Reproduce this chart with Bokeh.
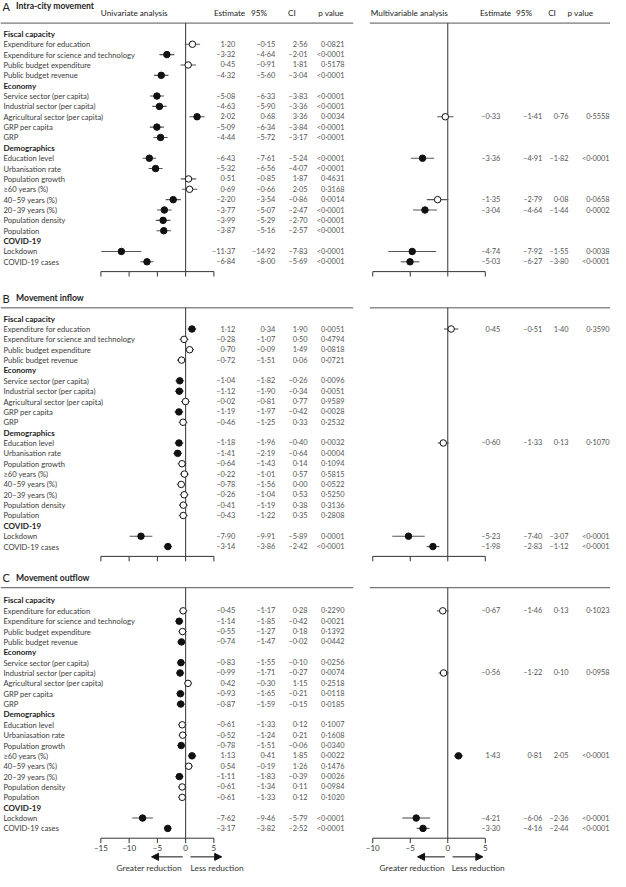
from bokeh.plotting import figure
from bokeh.models import Range1d, ColumnDataSource, Arrow, NormalHead
from bokeh.core.properties import value
from bokeh.embed import file_html
from bokeh.resources import INLINE

# ---------------- data ----------------
groups = ["Fiscal capacity", "Economy", "Demographics", "COVID-19"]
group_sizes = [4, 5, 8, 2]
items = ["Expenditure for education", "Expenditure for science and technology",
         "Public budget expenditure", "Public budget revenue",
         "Service sector (per capita)", "Industrial sector (per capita)",
         "Agricultural sector (per capita)", "GRP per capita", "GRP",
         "Education level", "Urbanisation rate", "Population growth",
         "≥60 years (%)", "40–59 years (%)", "20–39 years (%)",
         "Population density", "Population", "Lockdown", "COVID-19 cases"]
items_c = [("Urbaniasation rate" if s == "Urbanisation rate" else s) for s in items]

panel_letters = ["A", "B", "C"]
panel_titles = ["Intra-city movement", "Movement inflow", "Movement outflow"]

uni_a_est = [1.20, -3.32, 0.45, -4.32, -5.08, -4.63, 2.02, -5.09, -4.44, -6.43, -5.32, 0.51, 0.69, -2.20, -3.77, -3.99, -3.87, -11.37, -6.84]
uni_a_lo = [-0.15, -4.64, -0.91, -5.60, -6.33, -5.90, 0.68, -6.34, -5.72, -7.61, -6.56, -0.85, -0.66, -3.54, -5.07, -5.29, -5.16, -14.92, -8.00]
uni_a_hi = [2.56, -2.01, 1.81, -3.04, -3.83, -3.36, 3.36, -3.84, -3.17, -5.24, -4.07, 1.87, 2.05, -0.86, -2.47, -2.70, -2.57, -7.83, -5.69]
uni_a_p = ["0.0821", "<0.0001", "0.5178", "<0.0001", "<0.0001", "<0.0001", "0.0034", "<0.0001", "<0.0001", "<0.0001", "<0.0001", "0.4631", "0.3168", "0.0014", "<0.0001", "<0.0001", "<0.0001", "<0.0001", "<0.0001"]

uni_b_est = [1.12, -0.28, 0.70, -0.72, -1.04, -1.12, -0.02, -1.19, -0.46, -1.18, -1.41, -0.64, -0.22, -0.78, -0.26, -0.41, -0.43, -7.90, -3.14]
uni_b_lo = [0.34, -1.07, -0.09, -1.51, -1.82, -1.90, -0.81, -1.97, -1.25, -1.96, -2.19, -1.43, -1.01, -1.56, -1.04, -1.19, -1.22, -9.91, -3.86]
uni_b_hi = [1.90, 0.50, 1.49, 0.06, -0.26, -0.34, 0.77, -0.42, 0.33, -0.40, -0.64, 0.14, 0.57, 0.00, 0.53, 0.38, 0.35, -5.89, -2.42]
uni_b_p = ["0.0051", "0.4794", "0.0818", "0.0721", "0.0096", "0.0051", "0.9589", "0.0028", "0.2532", "0.0032", "0.0004", "0.1094", "0.5815", "0.0522", "0.5250", "0.3136", "0.2808", "0.0001", "<0.0001"]

uni_c_est = [-0.45, -1.14, -0.55, -0.74, -0.83, -0.99, 0.42, -0.93, -0.87, -0.61, -0.52, -0.78, 1.13, 0.54, -1.11, -0.61, -0.61, -7.62, -3.17]
uni_c_lo = [-1.17, -1.85, -1.27, -1.47, -1.55, -1.71, -0.30, -1.65, -1.59, -1.33, -1.24, -1.51, 0.41, -0.19, -1.83, -1.34, -1.33, -9.46, -3.82]
uni_c_hi = [0.28, -0.42, 0.18, -0.02, -0.10, -0.27, 1.15, -0.21, -0.15, 0.12, 0.21, -0.06, 1.85, 1.26, -0.39, 0.11, 0.12, -5.79, -2.52]
uni_c_p = ["0.2290", "0.0021", "0.1392", "0.0442", "0.0256", "0.0074", "0.2518", "0.0118", "0.0185", "0.1007", "0.1608", "0.0340", "0.0022", "0.1476", "0.0026", "0.0984", "0.1020", "<0.0001", "<0.0001"]

multi_a_rows = ["Agricultural sector (per capita)", "Education level", "40–59 years (%)", "20–39 years (%)", "Lockdown", "COVID-19 cases"]
multi_a_est = [-0.33, -3.36, -1.35, -3.04, -4.74, -5.03]
multi_a_lo = [-1.41, -4.91, -2.79, -4.64, -7.92, -6.27]
multi_a_hi = [0.76, -1.82, 0.08, -1.44, -1.55, -3.80]
multi_a_p = ["0.5558", "<0.0001", "0.0658", "0.0002", "0.0038", "<0.0001"]

multi_b_rows = ["Expenditure for education", "Education level", "Lockdown", "COVID-19 cases"]
multi_b_est = [0.45, -0.60, -5.23, -1.98]
multi_b_lo = [-0.51, -1.33, -7.40, -2.83]
multi_b_hi = [1.40, 0.13, -3.07, -1.12]
multi_b_p = ["0.3590", "0.1070", "<0.0001", "<0.0001"]

multi_c_rows = ["Expenditure for education", "Industrial sector (per capita)", "≥60 years (%)", "Lockdown", "COVID-19 cases"]
multi_c_est = [-0.67, -0.56, 1.43, -4.21, -3.30]
multi_c_lo = [-1.46, -1.22, 0.81, -6.06, -4.16]
multi_c_hi = [0.13, 0.10, 2.05, -2.36, -2.44]
multi_c_p = ["0.1023", "0.0958", "<0.0001", "<0.0001", "<0.0001"]

uni_ticks = [-15, -10, -5, 0, 5]
multi_ticks = [-10, -5, 0, 5]

# ---------------- layout (reference pixel units) ----------------
W_REF, H_REF = 626, 887
FONT = value("Lato")
PANEL_TOP = [34, 324, 611]
TITLE_Y = [6, 303, 588]
RULE_Y = [23, 313, 598]
ROW_STEP = 10.55
UNI_ZERO_PX, UNI_M15_PX = 190.0, 103.0
MUL_ZERO_PX, MUL_M10_PX = 459.0, 382.0
uni_ppu = (UNI_ZERO_PX - UNI_M15_PX) / 15.0
mul_ppu = (MUL_ZERO_PX - MUL_M10_PX) / 10.0

TXT = "#3a3a3a"
NUM = "#555555"
LINE = "#555555"


def fmt(v):
    s = f"{abs(v):.2f}".replace(".", "·")
    return ("–" + s) if v < 0 else s


def fmt_p(s):
    return s.replace(".", "·")


def sig(s):
    return float(s.lstrip("<")) < 0.05


p = figure(width=610, height=871, x_range=Range1d(0, W_REF), y_range=Range1d(H_REF, 0),
           output_backend="svg", toolbar_location=None, min_border=0,
           x_axis_location=None, y_axis_location=None)
p.xgrid.grid_line_color = None
p.ygrid.grid_line_color = None
p.outline_line_color = None
p.extra_x_ranges = {
    "uni": Range1d(-UNI_ZERO_PX / uni_ppu, (W_REF - UNI_ZERO_PX) / uni_ppu),
    "multi": Range1d(-MUL_ZERO_PX / mul_ppu, (W_REF - MUL_ZERO_PX) / mul_ppu),
}


def text(x, y, t, size="7.6px", color=TXT, align="left", style="normal", **kw):
    p.text(x=x, y=y, text=t, text_font=FONT, text_font_size=value(size),
           text_color=color, text_align=align, text_baseline="middle",
           text_font_style=style, **kw)


# header row (panel A only)
text([103], [13], ["Univariate analysis"], size="8.2px", color="#222")
text([219, 257, 295, 326], [13] * 4, ["Estimate", "95%", "CI", "p value"], size="8.2px", color="#222")
text([380], [13], ["Multivariable analysis"], size="8.2px", color="#222")
text([492, 529, 562, 582], [13] * 4, ["Estimate", "95%", "CI", "p value"], size="8.2px", color="#222")

uni_data = [(uni_a_est, uni_a_lo, uni_a_hi, uni_a_p),
            (uni_b_est, uni_b_lo, uni_b_hi, uni_b_p),
            (uni_c_est, uni_c_lo, uni_c_hi, uni_c_p)]
multi_data = [(multi_a_rows, multi_a_est, multi_a_lo, multi_a_hi, multi_a_p),
              (multi_b_rows, multi_b_est, multi_b_lo, multi_b_hi, multi_b_p),
              (multi_c_rows, multi_c_est, multi_c_lo, multi_c_hi, multi_c_p)]

for k in range(3):
    top = PANEL_TOP[k]
    labels = items_c if k == 2 else items
    # row positions
    hdr_y, item_y = [], []
    r = 0
    for g, n in zip(groups, group_sizes):
        hdr_y.append(top + r * ROW_STEP)
        r += 1
        for _ in range(n):
            item_y.append(top + r * ROW_STEP)
            r += 1
    axis_y = top + (r - 1) * ROW_STEP + 10
    row_of = dict(zip(items, item_y))

    # title
    text([2], [TITLE_Y[k]], [panel_letters[k]], size="11px", color="#222")
    text([16], [TITLE_Y[k]], [panel_titles[k]], size="8.6px", color="#222", style="bold")
    # rules
    p.segment(x0=[0, 379], x1=[362, W_REF], y0=[RULE_Y[k]] * 2, y1=[RULE_Y[k]] * 2,
              line_color=LINE, line_width=1)

    # labels
    text([3] * len(groups), hdr_y, groups, size="8px", color="#222", style="bold")
    text([3] * len(labels), item_y, labels)

    # univariate
    est, lo, hi, pv = uni_data[k]
    src = ColumnDataSource(dict(
        y=item_y, est=est, lo=lo, hi=hi,
        fill=["#111111" if sig(s) else "white" for s in pv],
        e=[fmt(v) for v in est], l=[fmt(v) for v in lo], h=[fmt(v) for v in hi],
        pt=[fmt_p(s) for s in pv]))
    p.segment(x0=[0], x1=[0], y0=[RULE_Y[k]], y1=[axis_y], x_range_name="uni",
              line_color="#333", line_width=1)
    p.segment(x0="lo", x1="hi", y0="y", y1="y", source=src, x_range_name="uni",
              line_color=LINE, line_width=1.1)
    p.scatter(x="est", y="y", source=src, x_range_name="uni", size=6.5,
              fill_color="fill", line_color="#111111", line_width=1)
    for col, xx in (("e", 241), ("l", 282), ("h", 315), ("pt", 353)):
        p.text(x=xx, y="y", text=col, source=src, text_font=FONT,
               text_font_size=value("7.4px"), text_color=NUM,
               text_align="right", text_baseline="middle")
    # univariate axis
    p.segment(x0=[uni_ticks[0]], x1=[uni_ticks[-1]], y0=[axis_y], y1=[axis_y],
              x_range_name="uni", line_color="#333", line_width=1)
    p.segment(x0=uni_ticks, x1=uni_ticks, y0=[axis_y] * len(uni_ticks),
              y1=[axis_y + 5] * len(uni_ticks), x_range_name="uni",
              line_color="#333", line_width=1)

    # multivariable
    rows, mest, mlo, mhi, mp = multi_data[k]
    msrc = ColumnDataSource(dict(
        y=[row_of[n] for n in rows], est=mest, lo=mlo, hi=mhi,
        fill=["#111111" if sig(s) else "white" for s in mp],
        e=[fmt(v) for v in mest], l=[fmt(v) for v in mlo], h=[fmt(v) for v in mhi],
        pt=[fmt_p(s) for s in mp]))
    p.segment(x0=[0], x1=[0], y0=[RULE_Y[k]], y1=[axis_y], x_range_name="multi",
              line_color="#333", line_width=1)
    p.segment(x0="lo", x1="hi", y0="y", y1="y", source=msrc, x_range_name="multi",
              line_color=LINE, line_width=1.1)
    p.scatter(x="est", y="y", source=msrc, x_range_name="multi", size=6.5,
              fill_color="fill", line_color="#111111", line_width=1)
    for col, xx in (("e", 513), ("l", 556), ("h", 583), ("pt", 625)):
        p.text(x=xx, y="y", text=col, source=msrc, text_font=FONT,
               text_font_size=value("7.4px"), text_color=NUM,
               text_align="right", text_baseline="middle")
    p.segment(x0=[multi_ticks[0]], x1=[multi_ticks[-1]], y0=[axis_y], y1=[axis_y],
              x_range_name="multi", line_color="#333", line_width=1)
    p.segment(x0=multi_ticks, x1=multi_ticks, y0=[axis_y] * len(multi_ticks),
              y1=[axis_y + 5] * len(multi_ticks), x_range_name="multi",
              line_color="#333", line_width=1)

    if k == 2:
        p.text(x=uni_ticks, y=[axis_y + 10] * len(uni_ticks), text=[fmt(t).replace("·00", "") for t in uni_ticks],
               x_range_name="uni", text_font=FONT, text_font_size=value("8px"),
               text_color="#333", text_align="center", text_baseline="middle")
        p.text(x=multi_ticks, y=[axis_y + 10] * len(multi_ticks), text=[fmt(t).replace("·00", "") for t in multi_ticks],
               x_range_name="multi", text_font=FONT, text_font_size=value("8px"),
               text_color="#333", text_align="center", text_baseline="middle")
        ay = axis_y + 19
        for (xs, xe) in ((187, 155), (195, 227), (456, 428), (464, 495)):
            p.add_layout(Arrow(x_start=xs, x_end=xe, y_start=ay, y_end=ay,
                               line_color="#111", line_width=1,
                               end=NormalHead(size=7, fill_color="#111", line_color="#111")))
        ty = axis_y + 30
        text([186, 456], [ty, ty], ["Greater reduction", "Greater reduction"], size="8.4px", color="#333", align="right")
        text([195, 463], [ty, ty], ["Less reduction", "Less reduction"], size="8.4px", color="#333")

open("out.html", "w").write(file_html(p, INLINE))
